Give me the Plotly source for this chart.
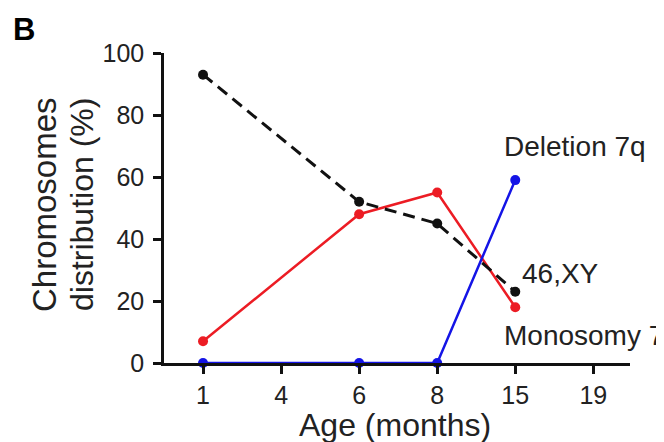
import plotly.graph_objects as go

age_ticks = ["1", "4", "6", "8", "15", "19"]
ages = ["1", "6", "8", "15"]
xy46 = [93, 52, 45, 23]
monosomy7 = [7, 48, 55, 18]
deletion7q = [0, 0, 0, 59]

FONT = "Liberation Sans, Arial, sans-serif"
TXT = "#222222"

# page body adds an 8px offset; margins compensate
L, T = 156, 45
PLOT_W = 466
PLOT_H = 310
OFF = 8

fig = go.Figure()
fig.add_trace(go.Scatter(x=ages, y=monosomy7, mode="lines+markers",
                         line=dict(color="#ec1c24", width=2.5),
                         marker=dict(size=10, color="#ec1c24"), cliponaxis=False))
fig.add_trace(go.Scatter(x=ages, y=xy46, mode="lines+markers",
                         line=dict(color="#111111", width=3, dash="12px,7px"),
                         marker=dict(size=10, color="#111111"), cliponaxis=False))
fig.add_trace(go.Scatter(x=ages, y=deletion7q, mode="lines+markers",
                         line=dict(color="#1414e6", width=2.5),
                         marker=dict(size=10, color="#1414e6"), cliponaxis=False))

last = age_ticks.index(ages[-1])
lbl_font = dict(size=28, family=FONT, color=TXT)


def px_x(sx):
    return (sx - (L + OFF)) / PLOT_W


def px_y(sy):
    return ((T + OFF + PLOT_H) - sy) / PLOT_H


fig.update_layout(
    width=664, height=442,
    margin=dict(l=L, r=42, t=T, b=87),
    plot_bgcolor="white", paper_bgcolor="white",
    showlegend=False,
    font=dict(family=FONT, color=TXT, size=25),
    xaxis=dict(type="category", categoryorder="array", categoryarray=age_ticks,
               tickvals=age_ticks, ticktext=age_ticks,
               range=[-0.5, 5.47], showgrid=False, zeroline=False,
               showline=True, linecolor="#111", linewidth=2.5,
               ticks="outside", ticklen=8, tickwidth=2.5, tickcolor="#111",
               tickfont=dict(size=25, family=FONT, color=TXT)),
    yaxis=dict(range=[0, 100], tickvals=[0, 20, 40, 60, 80, 100],
               showgrid=False, zeroline=False,
               showline=True, linecolor="#111", linewidth=2.5,
               ticks="outside", ticklen=8, tickwidth=2.5, tickcolor="#111",
               ticklabelstandoff=4,
               tickfont=dict(size=25, family=FONT, color=TXT)),
    annotations=[
        dict(x=last, y=69.7, xref="x", yref="y", text="Deletion 7q", showarrow=False,
             xanchor="left", yanchor="middle", xshift=-13, font=lbl_font),
        dict(x=last, y=29, xref="x", yref="y", text="46,XY", showarrow=False,
             xanchor="left", yanchor="middle", xshift=5, font=lbl_font),
        dict(x=last, y=9, xref="x", yref="y", text="Monosomy 7", showarrow=False,
             xanchor="left", yanchor="middle", xshift=-13, font=lbl_font),
        dict(x=px_x(11), y=px_y(29), xref="paper", yref="paper", text="<b>B</b>", showarrow=False,
             xanchor="left", yanchor="middle", font=dict(size=31, family=FONT, color="#000")),
        dict(x=px_x(44), y=px_y(205), xref="paper", yref="paper", text="Chromosomes",
             showarrow=False, textangle=-90, xanchor="center", yanchor="middle",
             font=dict(size=33, family=FONT, color=TXT)),
        dict(x=px_x(82), y=px_y(205), xref="paper", yref="paper", text="distribution (%)",
             showarrow=False, textangle=-90, xanchor="center", yanchor="middle",
             font=dict(size=32, family=FONT, color=TXT)),
        dict(x=px_x(395), y=px_y(425), xref="paper", yref="paper", text="Age (months)",
             showarrow=False, xanchor="center", yanchor="middle",
             font=dict(size=32, family=FONT, color=TXT)),
    ],
)

fig.write_html("out.html")
